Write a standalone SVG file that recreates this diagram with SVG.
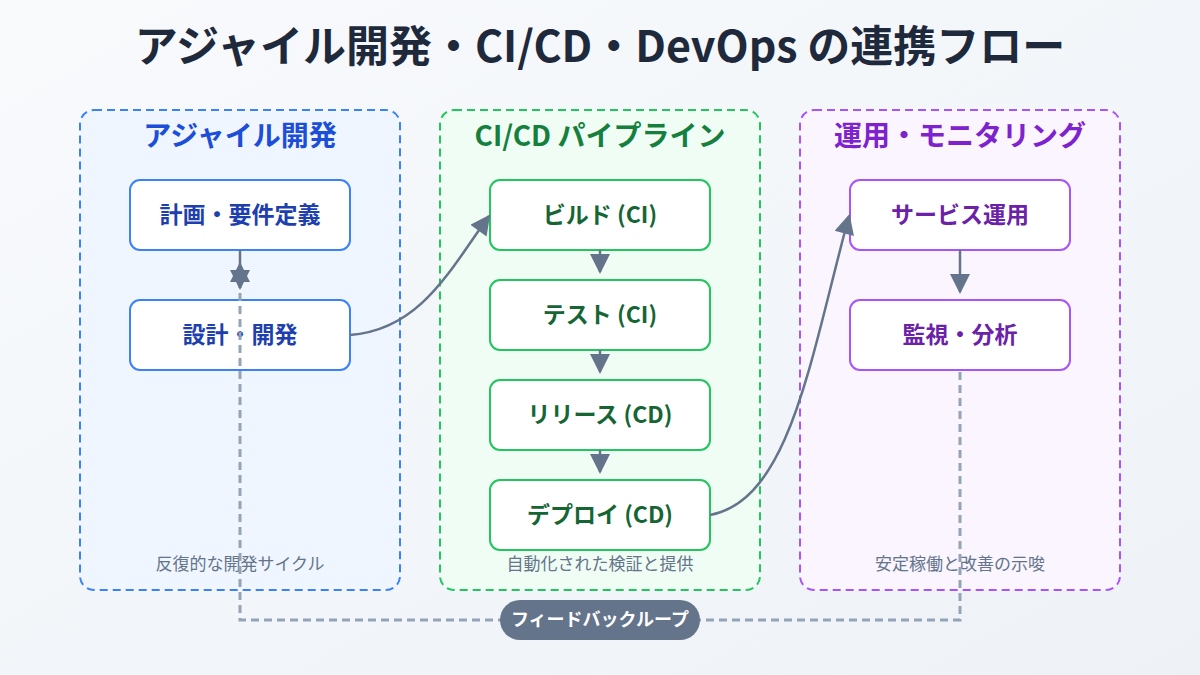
<svg xmlns="http://www.w3.org/2000/svg" width="1200" height="675" viewBox="0 0 1200 675">
<defs>
<linearGradient id="bg" x1="0" y1="0" x2="1" y2="1"><stop offset="0" stop-color="#f8fafc"/><stop offset="1" stop-color="#eef2f7"/></linearGradient>
<marker id="ah2" viewBox="0 0 10 10" refX="9" refY="5" markerWidth="22" markerHeight="20" orient="auto" markerUnits="userSpaceOnUse"><path d="M0,0 L10,5 L0,10 z" fill="#64748b"/></marker>
</defs>
<style>
text{font-family:"Noto Sans CJK JP","Noto Sans",sans-serif;font-weight:700;text-anchor:middle}
.t{font-size:43px;fill:#1e293b}
.gh{font-size:28px}
.nl{font-size:23px}
.cap{font-size:17px;font-weight:400;fill:#64748b}
.con{fill:none;stroke:#64748b;stroke-width:2.5}
.fb{fill:none;stroke:#94a3b8;stroke-width:3;stroke-dasharray:8 5}
</style>
<rect width="1200" height="675" fill="url(#bg)"/>
<text class="t" x="600" y="62">アジャイル開発・CI/CD・DevOps の連携フロー</text>
<g id="agile">
<rect x="80" y="110" width="320" height="480" rx="14" fill="#eff6ff" stroke="#3b82f6" stroke-width="2" stroke-dasharray="8 5"/>
<text class="gh" x="240" y="146" fill="#1d4ed8">アジャイル開発</text>
<text class="cap" x="240" y="570">反復的な開発サイクル</text>
</g>
<g id="cicd">
<rect x="440" y="110" width="320" height="480" rx="14" fill="#f0fdf4" stroke="#22c55e" stroke-width="2" stroke-dasharray="8 5"/>
<text class="gh" x="600" y="146" fill="#15803d">CI/CD パイプライン</text>
<text class="cap" x="600" y="570">自動化された検証と提供</text>
</g>
<g id="ops">
<rect x="800" y="110" width="320" height="480" rx="14" fill="#faf5ff" stroke="#a855f7" stroke-width="2" stroke-dasharray="8 5"/>
<text class="gh" x="960" y="146" fill="#7e22ce">運用・モニタリング</text>
<text class="cap" x="960" y="570">安定稼働と改善の示唆</text>
</g>
<g id="n1"><rect x="130" y="180" width="220" height="70" rx="10" fill="#fff" stroke="#3b82f6" stroke-width="2"/><text class="nl" x="240" y="223" fill="#1e40af">計画・要件定義</text></g>
<g id="n2"><rect x="130" y="300" width="220" height="70" rx="10" fill="#fff" stroke="#3b82f6" stroke-width="2"/><text class="nl" x="240" y="343" fill="#1e40af">設計・開発</text></g>
<g id="n3"><rect x="490" y="180" width="220" height="70" rx="10" fill="#fff" stroke="#22c55e" stroke-width="2"/><text class="nl" x="600" y="223" fill="#166534">ビルド (CI)</text></g>
<g id="n4"><rect x="490" y="280" width="220" height="70" rx="10" fill="#fff" stroke="#22c55e" stroke-width="2"/><text class="nl" x="600" y="323" fill="#166534">テスト (CI)</text></g>
<g id="n5"><rect x="490" y="380" width="220" height="70" rx="10" fill="#fff" stroke="#22c55e" stroke-width="2"/><text class="nl" x="600" y="423" fill="#166534">リリース (CD)</text></g>
<g id="n6"><rect x="490" y="480" width="220" height="70" rx="10" fill="#fff" stroke="#22c55e" stroke-width="2"/><text class="nl" x="600" y="523" fill="#166534">デプロイ (CD)</text></g>
<g id="n7"><rect x="850" y="180" width="220" height="70" rx="10" fill="#fff" stroke="#a855f7" stroke-width="2"/><text class="nl" x="960" y="223" fill="#6b21a8">サービス運用</text></g>
<g id="n8"><rect x="850" y="300" width="220" height="70" rx="10" fill="#fff" stroke="#a855f7" stroke-width="2"/><text class="nl" x="960" y="343" fill="#6b21a8">監視・分析</text></g>
<g id="connectors">
<path class="fb" d="M960,372 V620 H240 V264" marker-end="url(#ah2)"/>
<path class="con" d="M240,250 V288" marker-end="url(#ah2)"/>
<path class="con" d="M600,250 V272" marker-end="url(#ah2)"/>
<path class="con" d="M600,350 V372" marker-end="url(#ah2)"/>
<path class="con" d="M600,450 V472" marker-end="url(#ah2)"/>
<path class="con" d="M960,250 V292" marker-end="url(#ah2)"/>
<path class="con" d="M350,335 C420,330 450,270 489,216" marker-end="url(#ah2)"/>
<path class="con" d="M710,515 C790,500 810,360 849,216" marker-end="url(#ah2)"/>
</g>
<g id="fblabel"><rect x="500" y="600" width="200" height="40" rx="20" fill="#64748b"/><text x="600" y="626" font-size="18" fill="#fff">フィードバックループ</text></g>
</svg>
